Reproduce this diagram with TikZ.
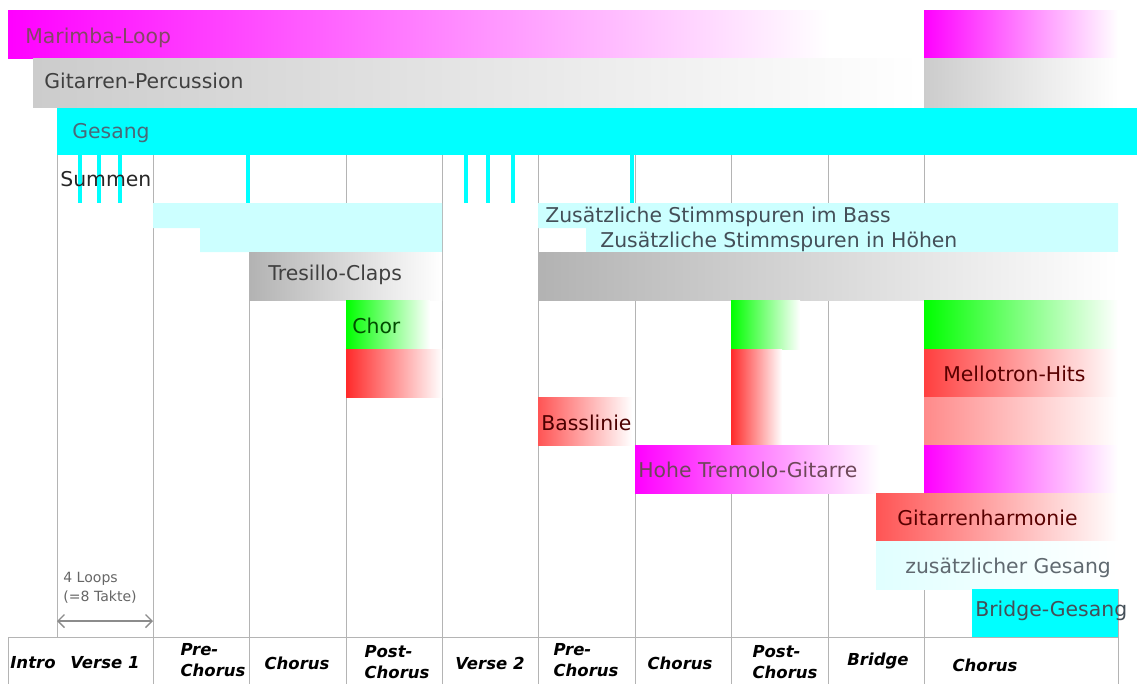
\documentclass[tikz,border=0pt]{standalone}
\usepackage{fontspec}
\setmainfont{DejaVu Sans}
\usetikzlibrary{arrows.meta}
\definecolor{cmag}{HTML}{FF00FF}
\definecolor{ccyan}{HTML}{00FFFF}
\definecolor{cpale}{HTML}{CCFFFF}
\definecolor{cgreen}{HTML}{00FF00}
\definecolor{cred}{HTML}{FF2A2A}
\definecolor{cgrid}{HTML}{B4B4B4}
\tikzset{>={Straight Barb[length=1.3mm]},
  trk/.style={anchor=base west,inner sep=0pt,font=\fontsize{11.6}{13}\selectfont,text=black!75},
  sec/.style={align=left,inner sep=0pt,font=\fontsize{9.4}{12}\selectfont\bfseries\itshape},
  gridln/.style={cgrid,line width=0.5pt},
  hum/.style={ccyan,line width=2.7pt}}
\newcommand{\fadebar}[5]{\shade[left color=#5,right color=white] (#1,#2) rectangle (#3,#4);}

\begin{document}
\begin{tikzpicture}[x=0.02cm,y=-0.02cm]
\useasboundingbox (0,0) rectangle (1137,684);

% ===== section grid =====
\foreach \sx in {153,249,346,442,538,635,731,828,924}
  \draw[gridln] (\sx,155) -- (\sx,684);
\draw[gridln] (57,155) -- (57,637);
\draw[gridln] (8,637) -- (1118,637);
\draw[gridln] (8,637) -- (8,684);
\draw[gridln] (1118,589) -- (1118,684);

% ===== loops / percussion / vocals =====
\fadebar{8}{10}{830}{58}{cmag}
\fadebar{924}{10}{1118}{58}{cmag}
\fadebar{33}{58}{920}{107}{gray!40}
\fadebar{924}{58}{1118}{107}{gray!40}
\fill[ccyan] (57,108) rectangle (1137,155);
\foreach \hx in {80,99,120,248,466,488,513,632}
  \draw[hum] (\hx,155) -- (\hx,203);
% extra voices
\fill[cpale] (153,203) -- (442,203) -- (442,252) -- (200,252) -- (200,228) -- (153,228) -- cycle;
\fill[cpale] (538,203) -- (1118,203) -- (1118,252) -- (586,252) -- (586,228) -- (538,228) -- cycle;

% ===== claps, choir, hits =====
\fadebar{249}{252}{442}{300}{gray!60}
\fadebar{538}{252}{1118}{300}{gray!60}
\fadebar{346}{300}{430}{349}{cgreen}
\fadebar{731}{300}{800}{349}{cgreen}
\fadebar{924}{300}{1118}{349}{cgreen}
\fadebar{346}{349}{442}{397}{cred}
\fadebar{731}{349}{782}{445}{cred}
\fadebar{924}{349}{1118}{397}{cred!90}
\fadebar{924}{397}{1118}{445}{cred!55}
\fadebar{538}{397}{632}{445}{cred!80}
\fadebar{635}{445}{880}{493}{cmag}
\fadebar{924}{445}{1118}{493}{cmag}
\fadebar{876}{493}{1118}{541}{cred!80}
\fadebar{876}{541}{1118}{589}{cpale!60}
\fill[ccyan] (972,589) rectangle (1118,637);

% ===== track labels =====
\node[trk,text=magenta!45!black] (marimba) at (25,43) {Marimba-Loop};
\node[trk] (gitperc) at (44,88) {Gitarren-Percussion};
\node[trk,text=cyan!40!black] (gesang) at (72,138) {Gesang};
\node[trk,text=black!85] (summen) at (60,186) {Summen};
\node[trk,text=cyan!25!black] (stimmbass) at (545,222) {Zusätzliche Stimmspuren im Bass};
\node[trk,text=cyan!25!black] (stimmhoch) at (600,247) {Zusätzliche Stimmspuren in Höhen};
\node[trk] (tresillo) at (268,280) {Tresillo-Claps};
\node[trk,text=green!30!black] (chor) at (352,333) {Chor};
\node[trk,text=red!35!black] (mellotron) at (943,381) {Mellotron-Hits};
\node[trk,text=red!30!black] (basslinie) at (541,430) {Basslinie};
\node[trk,text=magenta!35!black] (tremolo) at (638,477) {Hohe Tremolo-Gitarre};
\node[trk,text=red!35!black] (githarm) at (897,525) {Gitarrenharmonie};
\node[trk,text=cyan!20!black!80] (zusgesang) at (905,573) {zusätzlicher Gesang};
\node[trk,text=cyan!25!black] (bridgeges) at (975,616) {Bridge-Gesang};

% ===== loop length =====
\node[inner sep=0pt,align=left,anchor=north west,text=black!60,font=\fontsize{8}{11}\selectfont] (looplen) at (63,572) {4 Loops\\(=8 Takte)};
\coordinate (loopL) at (57,621);
\coordinate (loopR) at (153,621);
\draw[<->,black!45,line width=0.8pt] (loopL) -- (loopR);

% ===== song sections =====
\node[sec] (s-intro) at (33,663) {Intro};
\node[sec] (s-verse1) at (105,663) {Verse 1};
\node[sec] (s-pre1) at (213,660) {Pre-\\Chorus};
\node[sec] (s-chorus1) at (297,663) {Chorus};
\node[sec] (s-post1) at (397,662) {Post-\\Chorus};
\node[sec] (s-verse2) at (490,663) {Verse 2};
\node[sec] (s-pre2) at (586,660) {Pre-\\Chorus};
\node[sec] (s-chorus2) at (680,663) {Chorus};
\node[sec] (s-post2) at (785,662) {Post-\\Chorus};
\node[sec] (s-bridge) at (878,661) {Bridge};
\node[sec] (s-chorus3) at (985,665) {Chorus};
\end{tikzpicture}
\end{document}
